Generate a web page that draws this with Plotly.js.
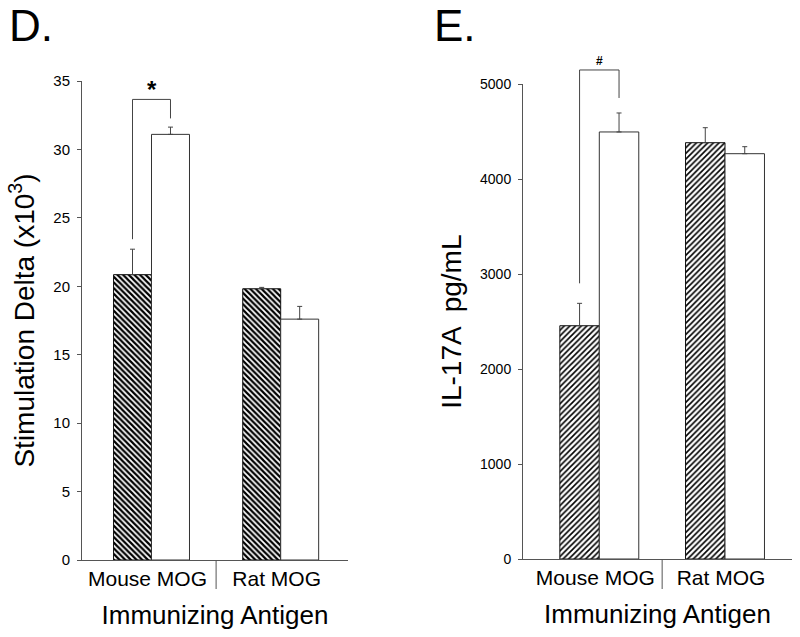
<!DOCTYPE html>
<html>
<head>
<meta charset="utf-8">
<script src="https://cdn.plot.ly/plotly-3.0.1.min.js"></script>
<style>html,body{margin:0;padding:0;background:#fff;}#chart{width:800px;height:637px;}</style>
</head>
<body>
<div id="chart"></div>
<script>
// ---- data ----
const categories = ["Mouse MOG", "Rat MOG"];
// Panel D: Stimulation Delta (x10^3)
const stimHatched = [20.85, 19.82];
const stimHatchedErr = [1.86, 0.10];
const stimOpen = [31.1, 17.6];
const stimOpenErr = [0.53, 0.93];
// Panel E: IL-17A pg/mL
const il17Hatched = [2457, 4385];
const il17HatchedErr = [236, 158];
const il17Open = [4498, 4269];
const il17OpenErr = [200, 74];
const yTicksD = [0, 5, 10, 15, 20, 25, 30, 35];
const yTicksE = [0, 1000, 2000, 3000, 4000, 5000];

// ---- layout helpers ----
const FONT = "Liberation Sans, Arial, Helvetica, sans-serif";
const W = 800, H = 637;
const domD = {x: [82 / W, 348 / W], y: [1 - 560 / H, 1 - 81 / H], xr: [-0.538, 1.521], yr: [0, 35], bw: 0.294};
const domE = {x: [523 / W, 792 / W], y: [1 - 559 / H, 1 - 84.3 / H], xr: [-0.607, 1.533], yr: [0, 5000], bw: 0.314};
const axisColor = "#555";
const zeros = [0, 0];

function toPaperY(dom, v) {
  return dom.y[0] + (v - dom.yr[0]) / (dom.yr[1] - dom.yr[0]) * (dom.y[1] - dom.y[0]);
}
const pxY = 1 / H;

function barPair(xa, ya, dom, hat, hatErr, opn, opnErr, shape, sol) {
  return [
    {
      type: "bar", x: categories, y: hat, xaxis: xa, yaxis: ya,
      width: dom.bw, offset: -dom.bw,
      marker: {color: "#fff", line: {color: "#111", width: 1},
        pattern: {shape: shape, fgcolor: "#000", bgcolor: "#fff", size: 4, solidity: sol}},
      error_y: {type: "data", array: hatErr, arrayminus: zeros, symmetric: false, color: "#444", thickness: 1, width: 2.5},
      showlegend: false, hoverinfo: "y"
    },
    {
      type: "bar", x: categories, y: opn, xaxis: xa, yaxis: ya,
      width: dom.bw, offset: 0,
      marker: {color: "#fff", line: {color: "#333", width: 1}},
      error_y: {type: "data", array: opnErr, arrayminus: zeros, symmetric: false, color: "#444", thickness: 1, width: 2.5},
      showlegend: false, hoverinfo: "y"
    }
  ];
}

const data = [].concat(
  barPair("x", "y", domD, stimHatched, stimHatchedErr, stimOpen, stimOpenErr, "\\", 0.55),
  barPair("x2", "y2", domE, il17Hatched, il17HatchedErr, il17Open, il17OpenErr, "/", 0.4)
);

// significance brackets (decoration), gaps in pixels above error bar tops
function bracket(xref, dom, hatTop, opnTop, gapL, gapTop, gapR) {
  const yL = toPaperY(dom, hatTop) + gapL * pxY;
  const yR = toPaperY(dom, opnTop) + gapR * pxY;
  const yT = toPaperY(dom, opnTop) + gapTop * pxY;
  const xl = -dom.bw / 2, xr = dom.bw / 2;
  return {
    shapes: [
      {type: "line", xref: xref, yref: "paper", x0: xl, x1: xl, y0: yL, y1: yT, line: {color: "#444", width: 1}},
      {type: "line", xref: xref, yref: "paper", x0: xl, x1: xr, y0: yT, y1: yT, line: {color: "#444", width: 1}},
      {type: "line", xref: xref, yref: "paper", x0: xr, x1: xr, y0: yT, y1: yR, line: {color: "#444", width: 1}}
    ],
    top: yT
  };
}
const bD = bracket("x", domD, stimHatched[0] + stimHatchedErr[0], stimOpen[0] + stimOpenErr[0], 10, 27.7, 8.7);
const bE = bracket("x2", domE, il17Hatched[0] + il17HatchedErr[0], il17Open[0] + il17OpenErr[0], 20, 43, 15);

const separators = [
  {type: "line", xref: "x", yref: "paper", x0: 0.5, x1: 0.5, y0: 1 - 560 / H, y1: 1 - 589 / H, line: {color: axisColor, width: 1}},
  {type: "line", xref: "x2", yref: "paper", x0: 0.5, x1: 0.5, y0: 1 - 559 / H, y1: 1 - 589 / H, line: {color: axisColor, width: 1}}
];

function xAxis(dom, anchor) {
  return {
    domain: dom.x, range: dom.xr, type: "category", anchor: anchor,
    showline: true, linecolor: axisColor, linewidth: 1, ticks: "", showgrid: false, zeroline: false,
    tickfont: {family: FONT, size: 21, color: "#000"}, ticklabelshift: -4,
    title: {text: "Immunizing Antigen", font: {family: FONT, size: 26, color: "#000"}, standoff: 16},
    fixedrange: true
  };
}
function yAxis(dom, anchor, ticks, fs, titleText) {
  return {
    domain: dom.y, range: dom.yr, anchor: anchor, tickmode: "array", tickvals: ticks,
    showline: true, linecolor: axisColor, linewidth: 1, ticks: "outside", ticklen: 4, tickcolor: axisColor,
    ticklabelstandoff: 4,
    showgrid: false, zeroline: false,
    tickfont: {family: FONT, size: fs, color: "#000"},
    title: {text: titleText, font: {family: FONT, size: 28, color: "#000"}, standoff: 10},
    fixedrange: true
  };
}

const layout = {
  width: W, height: H,
  margin: {l: 0, r: 0, t: 0, b: 0},
  paper_bgcolor: "#fff", plot_bgcolor: "#fff",
  barmode: "overlay",
  showlegend: false,
  xaxis: xAxis(domD, "y"),
  yaxis: yAxis(domD, "x", yTicksD, 15, "Stimulation Delta (x10<sup>3</sup>)"),
  xaxis2: xAxis(domE, "y2"),
  yaxis2: yAxis(domE, "x2", yTicksE, 14, "IL-17A  pg/mL"),
  shapes: [].concat(bD.shapes, bE.shapes, separators),
  annotations: [
    {text: "D.", xref: "paper", yref: "paper", x: 8 / W, y: 1, xanchor: "left", yanchor: "top", showarrow: false, borderpad: 0,
      font: {family: FONT, size: 44, color: "#000"}},
    {text: "E.", xref: "paper", yref: "paper", x: 433 / W, y: 1, xanchor: "left", yanchor: "top", showarrow: false, borderpad: 0,
      font: {family: FONT, size: 44, color: "#000"}},
    {text: "<b>*</b>", xref: "x", yref: "paper", x: categories[0], y: bD.top, yshift: -6, xanchor: "center", yanchor: "bottom", showarrow: false,
      font: {family: FONT, size: 24, color: "#000"}},
    {text: "<b>#</b>", xref: "x2", yref: "paper", x: categories[0], y: bE.top, xanchor: "center", yanchor: "bottom", showarrow: false,
      font: {family: FONT, size: 12, color: "#000"}}
  ]
};

Plotly.newPlot("chart", data, layout, {staticPlot: true, displayModeBar: false});
</script>
</body>
</html>
